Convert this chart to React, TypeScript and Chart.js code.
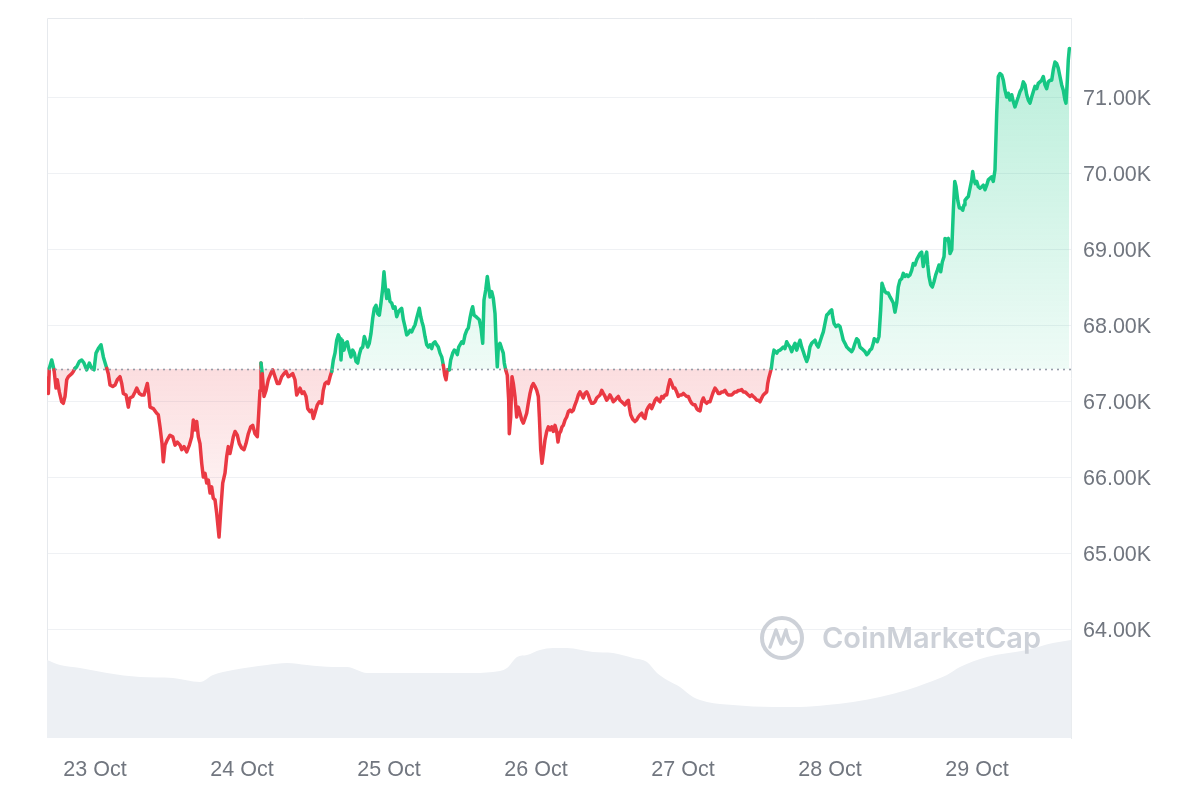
import React, { useEffect, useRef } from "react";
import { Chart, registerables } from "chart.js";

Chart.register(...registerables);

// Hours since 23 Oct 00:00
const HOURS = [
  -7.84, -7.62, -7.46, -7.07, -6.69, -6.37, -6.16, -5.83, -5.44, -5.18,
  -4.90, -4.62, -4.36, -3.80, -3.54, -3.27, -2.99, -2.56, -2.17, -1.80,
  -1.36, -0.93, -0.54, -0.16, 0.16, 0.54, 0.98, 1.36, 1.91, 2.17,
  2.45, 2.89, 3.27, 3.64, 4.08, 4.36, 4.62, 5.06, 5.44, 5.71,
  6.16, 6.53, 6.81, 7.23, 7.62, 8.00, 8.33, 8.54, 8.77, 8.98,
  9.52, 10.07, 10.33, 10.61, 10.94, 11.15, 11.43, 11.80, 12.24, 12.69,
  13.06, 13.44, 13.88, 14.16, 14.53, 14.97, 15.40, 15.79, 16.05, 16.33,
  16.60, 16.87, 17.14, 17.42, 17.68, 17.96, 18.24, 18.50, 18.78, 19.05,
  19.31, 19.59, 19.87, 20.25, 20.57, 20.85, 21.22, 21.50, 21.76, 22.04,
  22.32, 22.58, 22.86, 23.23, 23.56, 23.95, 24.33, 24.65, 25.03, 25.42,
  25.75, 26.12, 26.50, 26.73, 26.94, 27.10, 27.31, 27.59, 27.92, 28.29,
  28.69, 29.01, 29.39, 29.76, 30.09, 30.48, 30.86, 31.18, 31.56, 31.95,
  32.28, 32.65, 32.93, 33.19, 33.47, 33.80, 34.12, 34.45, 34.73, 35.10,
  35.38, 35.64, 35.97, 36.30, 36.62, 37.01, 37.27, 37.55, 37.83, 38.09,
  38.37, 38.65, 38.91, 39.18, 39.46, 39.72, 40.00, 40.16, 40.38, 40.65,
  40.93, 41.19, 41.47, 41.80, 42.07, 42.34, 42.61, 42.89, 43.15, 43.43,
  43.71, 43.97, 44.25, 44.52, 44.78, 45.06, 45.34, 45.60, 45.88, 46.16,
  46.42, 46.69, 46.97, 47.18, 47.40, 47.63, 47.89, 48.16, 48.44, 48.70,
  48.98, 49.26, 49.52, 49.80, 50.07, 50.34, 50.61, 50.89, 51.15, 51.43,
  51.71, 51.97, 52.24, 52.52, 52.78, 52.95, 53.18, 53.39, 53.60, 53.88,
  54.16, 54.42, 54.69, 54.97, 55.23, 55.51, 55.79, 56.05, 56.33, 56.61,
  56.87, 57.10, 57.31, 57.52, 57.85, 58.07, 58.40, 58.66, 58.94, 59.15,
  59.38, 59.59, 59.87, 60.13, 60.41, 60.69, 60.95, 61.22, 61.50, 61.66,
  61.88, 62.20, 62.48, 62.74, 63.02, 63.30, 63.51, 63.79, 64.05, 64.28,
  64.49, 64.77, 65.03, 65.31, 65.47, 65.68, 65.85, 66.12, 66.40, 66.66,
  66.82, 67.05, 67.31, 67.54, 67.64, 67.87, 68.08, 68.30, 68.57, 68.85,
  69.11, 69.39, 69.67, 69.93, 70.20, 70.48, 70.74, 71.02, 71.30, 71.56,
  71.84, 72.12, 72.38, 72.55, 72.77, 72.98, 73.19, 73.47, 73.75, 74.01,
  74.29, 74.57, 74.83, 75.10, 75.38, 75.59, 75.81, 76.03, 76.25, 76.46,
  76.74, 77.01, 77.28, 77.56, 77.83, 78.09, 78.37, 78.65, 78.91, 79.18,
  79.46, 79.72, 80.00, 80.28, 80.54, 80.82, 81.09, 81.36, 81.63, 81.91,
  82.17, 82.45, 82.73, 82.99, 83.27, 83.54, 83.81, 84.08, 84.36, 84.62,
  84.90, 85.18, 85.44, 85.71, 85.99, 86.25, 86.53, 86.81, 87.07, 87.24,
  87.46, 87.79, 88.16, 88.44, 88.70, 88.98, 89.26, 89.52, 89.80, 90.08,
  90.34, 90.61, 90.89, 91.15, 91.43, 91.71, 91.97, 92.24, 92.52, 92.78,
  93.06, 93.34, 93.60, 93.88, 94.16, 94.42, 94.69, 94.97, 95.23, 95.51,
  95.79, 96.05, 96.33, 96.61, 96.87, 97.14, 97.42, 97.68, 97.96, 98.24,
  98.50, 98.78, 99.06, 99.32, 99.59, 99.87, 100.13, 100.41, 100.69, 100.95,
  101.22, 101.50, 101.76, 102.04, 102.32, 102.58, 102.86, 103.14, 103.40, 103.67,
  103.95, 104.21, 104.49, 104.77, 105.03, 105.31, 105.59, 105.85, 106.12, 106.40,
  106.66, 106.94, 107.22, 107.48, 107.76, 108.04, 108.30, 108.57, 108.85, 109.11,
  109.39, 109.67, 109.83, 110.00, 110.20, 110.42, 110.65, 110.86, 111.07, 111.30,
  111.56, 111.84, 112.12, 112.38, 112.65, 112.93, 113.19, 113.47, 113.75, 114.01,
  114.29, 114.56, 114.83, 115.10, 115.38, 115.64, 115.92, 116.20, 116.46, 116.73,
  117.01, 117.27, 117.55, 117.83, 118.09, 118.37, 118.65, 118.91, 119.18, 119.46,
  119.73, 120.00, 120.28, 120.44, 120.66, 120.98, 121.36, 121.63, 121.91, 122.17,
  122.45, 122.73, 122.99, 123.27, 123.54, 123.81, 124.08, 124.36, 124.62, 124.90,
  125.18, 125.44, 125.71, 125.99, 126.25, 126.53, 126.81, 127.07, 127.23, 127.46,
  127.72, 128.00, 128.28, 128.49, 128.70, 128.98, 129.26, 129.52, 129.80, 130.08,
  130.34, 130.61, 130.89, 131.15, 131.43, 131.71, 131.97, 132.24, 132.52, 132.78,
  133.06, 133.34, 133.60, 133.88, 134.16, 134.42, 134.69, 134.97, 135.23, 135.51,
  135.79, 135.96, 136.16, 136.44, 136.71, 136.98, 137.26, 137.52, 137.80, 138.08,
  138.34, 138.62, 138.78, 139.06, 139.32, 139.60, 139.88, 140.14, 140.37, 140.58,
  140.86, 141.12, 141.39, 141.67, 141.88, 142.04, 142.32, 142.58, 142.86, 143.14,
  143.30, 143.51, 143.73, 143.96, 144.21, 144.49, 144.77, 145.03, 145.31, 145.59,
  145.85, 146.12, 146.40, 146.66, 146.94, 147.22, 147.48, 147.76, 148.04, 148.30,
  148.57, 148.85, 149.11, 149.39, 149.67, 149.93, 150.20, 150.48, 150.74, 151.02,
  151.30, 151.56, 151.84, 152.12, 152.38, 152.66, 152.93, 153.19, 153.47, 153.75,
  154.01, 154.29, 154.56, 154.83, 155.10, 155.38, 155.64, 155.92, 156.20, 156.46,
  156.73, 157.01, 157.27, 157.55, 157.83, 158.09, 158.37, 158.53, 158.75, 158.91, 159.08,
];

// BTC price (USD)
const PRICES = [
  67300, 67100, 67430, 67540, 67410, 67170, 67280, 67120, 66990, 66970,
  67060, 67280, 67320, 67360, 67390, 67430, 67450, 67520, 67540, 67500,
  67410, 67500, 67430, 67410, 67630, 67690, 67740, 67580, 67430, 67360,
  67210, 67190, 67210, 67280, 67320, 67230, 67100, 67080, 66920, 67040,
  67060, 67120, 67170, 67100, 67080, 67080, 67170, 67230, 67100, 66920,
  66900, 66840, 66820, 66660, 66440, 66200, 66420, 66490, 66550, 66530,
  66420, 66460, 66420, 66360, 66400, 66330, 66420, 66530, 66750, 66620,
  66730, 66530, 66440, 66180, 66000, 66050, 65920, 65960, 65790, 65870,
  65720, 65700, 65520, 65210, 65610, 65920, 66050, 66270, 66400, 66310,
  66420, 66530, 66600, 66550, 66440, 66380, 66360, 66440, 66570, 66660,
  66680, 66570, 66530, 66840, 67140, 67500, 67360, 67060, 67140, 67280,
  67360, 67410, 67320, 67230, 67230, 67320, 67360, 67390, 67320, 67340,
  67360, 67280, 67080, 67120, 67170, 67100, 67120, 67060, 66900, 66860,
  66880, 66770, 66860, 66950, 66990, 66970, 67140, 67230, 67250, 67230,
  67320, 67390, 67540, 67630, 67800, 67870, 67820, 67540, 67800, 67670,
  67760, 67780, 67670, 67580, 67670, 67630, 67520, 67500, 67610, 67690,
  67710, 67850, 67780, 67710, 67760, 67890, 68090, 68220, 68260, 68150,
  68130, 68290, 68480, 68700, 68500, 68350, 68460, 68310, 68290, 68220,
  68240, 68110, 68170, 68200, 68220, 68070, 67980, 67870, 67890, 67930,
  67910, 67960, 68000, 68090, 68170, 68220, 68110, 68040, 67980, 67850,
  67740, 67710, 67740, 67690, 67760, 67780, 67740, 67710, 67630, 67580,
  67470, 67340, 67280, 67410, 67410, 67540, 67630, 67670, 67650, 67610,
  67710, 67740, 67780, 67760, 67870, 67930, 67960, 68090, 68200, 68240,
  68130, 68110, 68090, 68070, 67960, 67760, 68330, 68460, 68640, 68500,
  68370, 68440, 68350, 68150, 67800, 67450, 67710, 67760, 67690, 67630,
  67500, 67410, 67340, 67010, 66570, 66790, 67320, 67230, 67060, 66790,
  66920, 66840, 66750, 66710, 66770, 66840, 66970, 67100, 67190, 67230,
  67190, 67140, 67060, 66790, 66360, 66180, 66310, 66490, 66600, 66660,
  66620, 66660, 66600, 66680, 66600, 66460, 66570, 66600, 66660, 66680,
  66750, 66790, 66860, 66880, 66860, 66880, 66950, 67010, 67080, 67120,
  67080, 67040, 67100, 67120, 67080, 67010, 66970, 66970, 66990, 67040,
  67060, 67080, 67140, 67100, 67060, 67010, 67040, 67080, 67040, 66990,
  67010, 67040, 67060, 67010, 66990, 66970, 66950, 66990, 67010, 66920,
  66820, 66760, 66730, 66750, 66790, 66820, 66840, 66790, 66770, 66880,
  66920, 66950, 66900, 66950, 67010, 67040, 67010, 66990, 67060, 67040,
  67080, 67080, 67190, 67280, 67230, 67170, 67170, 67120, 67060, 67080,
  67080, 67100, 67080, 67060, 67060, 67010, 66970, 66950, 66950, 66900,
  66880, 66870, 66990, 67040, 66990, 66970, 66990, 66990, 67060, 67120,
  67170, 67140, 67100, 67100, 67120, 67120, 67140, 67100, 67080, 67080,
  67080, 67100, 67120, 67120, 67140, 67140, 67150, 67120, 67120, 67100,
  67080, 67060, 67080, 67060, 67040, 67010, 67010, 66990, 67040, 67080,
  67100, 67120, 67230, 67300, 67360, 67430, 67580, 67670, 67650, 67630,
  67660, 67670, 67690, 67710, 67690, 67780, 67740, 67710, 67650, 67710,
  67760, 67670, 67740, 67800, 67710, 67650, 67580, 67520, 67580, 67710,
  67760, 67780, 67800, 67740, 67710, 67780, 67850, 67910, 68020, 68130,
  68150, 68180, 68200, 68110, 68020, 67980, 68000, 67980, 67890, 67800,
  67760, 67710, 67690, 67670, 67650, 67690, 67760, 67820, 67800, 67710,
  67690, 67670, 67650, 67610, 67630, 67670, 67690, 67760, 67820, 67800,
  67780, 67850, 68200, 68550, 68500, 68440, 68420, 68420, 68370, 68330,
  68290, 68170, 68290, 68500, 68590, 68610, 68680, 68640, 68660, 68640,
  68660, 68720, 68810, 68790, 68860, 68900, 68940, 68960, 68770, 68880,
  68960, 68790, 68640, 68530, 68500, 68570, 68660, 68720, 68790, 68700,
  68830, 68900, 69140, 69120, 69140, 68940, 68990, 69510, 69890, 69820,
  69640, 69540, 69540, 69510, 69580, 69640, 69670, 69690, 69800, 69910,
  70020, 69910, 69860, 69890, 69820, 69800, 69820, 69840, 69780, 69840,
  69910, 69930, 69950, 69890, 70040, 70790, 71270, 71310, 71290, 71220,
  71090, 71000, 71050, 70960, 71030, 70940, 70870, 70940, 71000, 71070,
  71110, 71200, 71160, 71030, 70960, 70920, 71000, 71070, 71140, 71110,
  71180, 71200, 71220, 71270, 71160, 71110, 71200, 71220, 71220, 71360,
  71460, 71440, 71380, 71270, 71160, 71090, 70960, 70920, 71220, 71490, 71640,
];

// Trading volume (billions USD)
const VOL_HOURS = [
  -7.84, -5.71, -2.45, 1.96, 7.35, 12.73, 17.14, 19.27, 22.53, 28.08,
  31.35, 34.61, 38.86, 41.14, 44.41, 47.67, 51.92, 56.33, 60.74, 64.98,
  67.27, 68.90, 70.53, 72.65, 74.78, 77.06, 81.31, 84.57, 87.84, 90.12,
  91.76, 93.39, 95.51, 97.63, 99.92, 104.16, 110.69, 115.10, 119.51, 123.76,
  128.16, 132.57, 135.84, 139.10, 141.22, 145.63, 152.16, 156.41, 159.35,
];
const VOLUMES = [
  39, 36.5, 35, 32.5, 30.5, 30, 28, 31.5, 34, 36.5,
  37.5, 36.5, 35.5, 35.5, 32.5, 32.5, 32.5, 32.5, 32.5, 33,
  35, 40.5, 41.5, 44, 45, 45, 43, 42.5, 40, 38,
  32.5, 29, 25.5, 20.5, 18, 16.5, 15.5, 15.5, 16.5, 18,
  20.5, 24, 27.5, 31.5, 35.5, 40.5, 44, 47.5, 49,
];

const DAY_TICKS = [0, 24, 48, 72, 96, 120, 144];
const DAY_LABELS = ["23 Oct", "24 Oct", "25 Oct", "26 Oct", "27 Oct", "28 Oct", "29 Oct"];
const PRICE_TICKS = [64000, 65000, 66000, 67000, 68000, 69000, 70000, 71000];
const BASE_PRICE = 67420;
const X_MIN = -7.84;
const X_MAX = 159.35;
const Y_MIN = 62566;
const Y_MAX = 72040;
const VOL_MAX = 360;

const GREEN = "#16c784";
const RED = "#ea3943";
const FONT_FAMILY = '"Liberation Sans", Arial, Helvetica, sans-serif';
const TICK_COLOR = "#71767f";
const GRID_COLOR = "#eff1f4";
const WATERMARK = "#cdd1d8";

export default function App() {
  const ref = useRef<HTMLCanvasElement | null>(null);

  useEffect(() => {
    const canvas = ref.current;
    if (!canvas) return;
    const n = Math.min(HOURS.length, PRICES.length);
    const pricePts: { x: number; y: number }[] = [];
    for (let i = 0; i < n; i++) pricePts.push({ x: HOURS[i], y: PRICES[i] });
    const vn = Math.min(VOL_HOURS.length, VOLUMES.length);
    const volPts: { x: number; y: number }[] = [];
    for (let i = 0; i < vn; i++) volPts.push({ x: VOL_HOURS[i], y: VOLUMES[i] });

    const decor = {
      id: "decor",
      beforeDatasetsDraw(chart: any) {
        const { ctx, chartArea } = chart;
        const { left, top, right, bottom } = chartArea;
        ctx.save();
        ctx.strokeStyle = "#e6e9ed";
        ctx.lineWidth = 1;
        ctx.beginPath();
        ctx.moveTo(left + 0.5, bottom);
        ctx.lineTo(left + 0.5, top + 0.5);
        ctx.lineTo(right, top + 0.5);
        ctx.stroke();
        ctx.restore();
      },
      afterDatasetsDraw(chart: any) {
        const { ctx, chartArea } = chart;
        const { left, right, bottom } = chartArea;
        const yb = Math.round(chart.scales.y.getPixelForValue(BASE_PRICE)) + 0.5;
        ctx.save();
        ctx.strokeStyle = "#8e96a3";
        ctx.lineWidth = 2;
        ctx.lineCap = "round";
        ctx.setLineDash([0, 6]);
        ctx.beginPath();
        ctx.moveTo(left + 3, yb);
        ctx.lineTo(right, yb);
        ctx.stroke();
        ctx.restore();

        // watermark
        const cx = right - 289;
        const cy = bottom - 100;
        ctx.save();
        ctx.strokeStyle = WATERMARK;
        ctx.fillStyle = WATERMARK;
        ctx.lineWidth = 4;
        ctx.beginPath();
        ctx.arc(cx, cy, 20, 0, Math.PI * 2);
        ctx.stroke();
        ctx.lineWidth = 3.5;
        ctx.lineJoin = "round";
        ctx.lineCap = "round";
        ctx.beginPath();
        ctx.moveTo(cx - 12, cy + 9);
        ctx.lineTo(cx - 6, cy - 8);
        ctx.lineTo(cx - 1, cy + 6);
        ctx.lineTo(cx + 4, cy - 8);
        ctx.quadraticCurveTo(cx + 7, cy + 9, cx + 14, cy + 4);
        ctx.stroke();
        ctx.font = '600 29px Inter, "Open Sans", sans-serif';
        ctx.textBaseline = "middle";
        ctx.textAlign = "left";
        ctx.fillText("CoinMarketCap", right - 249, cy + 1);
        ctx.restore();
      },
    };

    const chart = new Chart(canvas, {
      type: "line",
      data: {
        datasets: [
          {
            label: "Price",
            data: pricePts,
            yAxisID: "y",
            borderColor: GREEN,
            borderWidth: 3.5,
            borderJoinStyle: "round",
            borderCapStyle: "round",
            pointRadius: 0,
            tension: 0,
            order: 1,
            fill: { target: { value: BASE_PRICE }, above: "rgba(22,199,132,0.15)", below: "rgba(234,57,67,0.12)" },
            segment: {
              borderColor: (c: any) =>
                (c.p0.parsed.y + c.p1.parsed.y) / 2 >= BASE_PRICE ? GREEN : RED,
            },
          } as any,
          {
            label: "Volume",
            data: volPts,
            yAxisID: "yVol",
            borderWidth: 0,
            borderColor: "rgba(0,0,0,0)",
            backgroundColor: "#edf0f4",
            pointRadius: 0,
            cubicInterpolationMode: "monotone",
            fill: "origin",
            order: 2,
          } as any,
        ],
      },
      options: {
        animation: false,
        responsive: false,
        maintainAspectRatio: false,
        devicePixelRatio: 1,
        layout: { padding: { left: 47, top: 18, right: 0, bottom: 0 } },
        plugins: { legend: { display: false }, tooltip: { enabled: false } },
        scales: {
          x: {
            type: "linear",
            min: X_MIN,
            max: X_MAX,
            grid: { display: false, drawTicks: false },
            border: { display: false },
            ticks: {
              autoSkip: false,
              maxRotation: 0,
              padding: 19,
              color: TICK_COLOR,
              font: { family: FONT_FAMILY, size: 21.5 },
              callback: (v: any) => {
                const i = DAY_TICKS.indexOf(Number(v));
                return i >= 0 ? DAY_LABELS[i] : "";
              },
            },
            afterBuildTicks: (s: any) => {
              s.ticks = DAY_TICKS.map((v) => ({ value: v }));
            },
            afterFit: (s: any) => {
              s.height = 62;
              s.paddingLeft = 0;
              s.paddingRight = 0;
            },
          },
          y: {
            type: "linear",
            position: "right",
            min: Y_MIN,
            max: Y_MAX,
            grid: { color: GRID_COLOR, drawTicks: false, lineWidth: 1 },
            border: { display: true, color: "#e9ecef" },
            ticks: {
              padding: 12,
              labelOffset: 2,
              color: TICK_COLOR,
              font: { family: FONT_FAMILY, size: 21.5 },
              callback: (v: any) => (Number(v) / 1000).toFixed(2) + "K",
            },
            afterBuildTicks: (s: any) => {
              s.ticks = PRICE_TICKS.map((v) => ({ value: v }));
            },
            afterFit: (s: any) => {
              s.width = 129;
              s.paddingTop = 0;
              s.paddingBottom = 0;
            },
          },
          yVol: {
            type: "linear",
            display: false,
            min: 0,
            max: VOL_MAX,
          },
        },
      } as any,
      plugins: [decor],
    });

    // vertical gradients anchored on the baseline
    const ctx2 = canvas.getContext("2d");
    if (ctx2) {
      const area = chart.chartArea;
      const ys: any = chart.scales.y;
      const basePx = ys.getPixelForValue(BASE_PRICE);
      const gUp = ctx2.createLinearGradient(0, area.top, 0, basePx);
      gUp.addColorStop(0, "rgba(22,199,132,0.32)");
      gUp.addColorStop(1, "rgba(22,199,132,0.07)");
      const gDn = ctx2.createLinearGradient(0, basePx, 0, ys.getPixelForValue(65000));
      gDn.addColorStop(0, "rgba(234,57,67,0.17)");
      gDn.addColorStop(1, "rgba(234,57,67,0.02)");
      (chart.data.datasets[0] as any).fill = {
        target: { value: BASE_PRICE },
        above: gUp,
        below: gDn,
      };
      chart.update("none");
    }

    return () => chart.destroy();
  }, []);

  return (
    <div
      style={{
        position: "fixed",
        left: 0,
        top: 0,
        width: 1200,
        height: 800,
        background: "#ffffff",
      }}
    >
      <canvas ref={ref} width={1200} height={800} style={{ display: "block" }} />
    </div>
  );
}
